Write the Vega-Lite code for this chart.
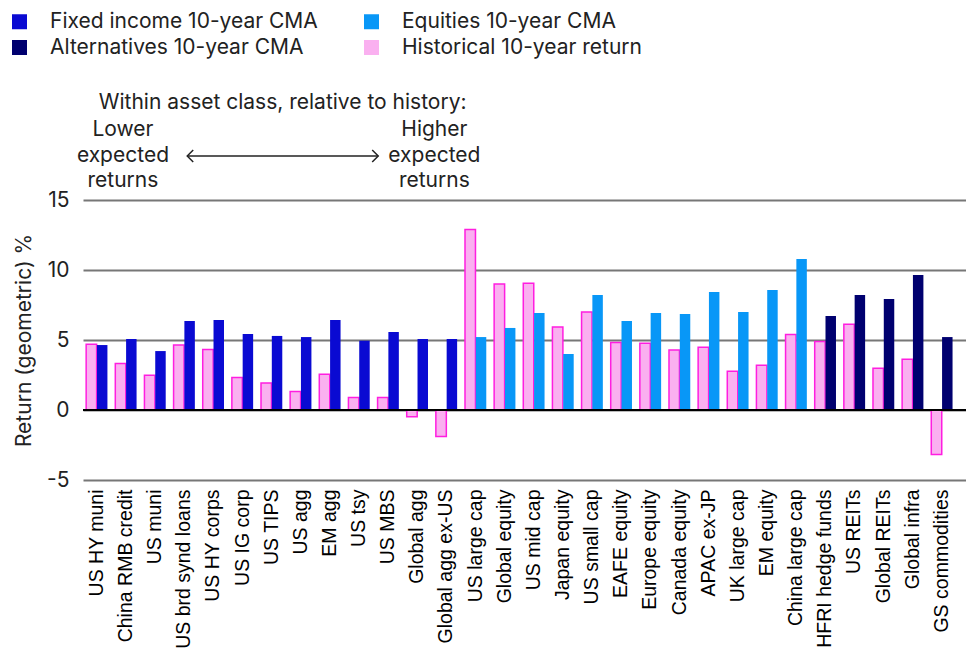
{
  "$schema": "https://vega.github.io/schema/vega-lite/v6.json",
  "width": 883,
  "height": 280,
  "autosize": "none",
  "padding": {"left": 83, "top": 200, "right": 0, "bottom": 191},
  "background": "white",
  "config": {"view": {"stroke": null}, "font": "Inter"},
  "layer": [
    {
      "data": {"values": [
        {"asset": "US HY muni", "kind": "Historical", "series": "Historical 10-year return", "value": 4.69},
        {"asset": "US HY muni", "kind": "CMA", "series": "Fixed income 10-year CMA", "value": 4.64},
        {"asset": "China RMB credit", "kind": "Historical", "series": "Historical 10-year return", "value": 3.33},
        {"asset": "China RMB credit", "kind": "CMA", "series": "Fixed income 10-year CMA", "value": 5.07},
        {"asset": "US muni", "kind": "Historical", "series": "Historical 10-year return", "value": 2.48},
        {"asset": "US muni", "kind": "CMA", "series": "Fixed income 10-year CMA", "value": 4.21},
        {"asset": "US brd synd loans", "kind": "Historical", "series": "Historical 10-year return", "value": 4.64},
        {"asset": "US brd synd loans", "kind": "CMA", "series": "Fixed income 10-year CMA", "value": 6.36},
        {"asset": "US HY corps", "kind": "Historical", "series": "Historical 10-year return", "value": 4.33},
        {"asset": "US HY corps", "kind": "CMA", "series": "Fixed income 10-year CMA", "value": 6.43},
        {"asset": "US IG corp", "kind": "Historical", "series": "Historical 10-year return", "value": 2.33},
        {"asset": "US IG corp", "kind": "CMA", "series": "Fixed income 10-year CMA", "value": 5.43},
        {"asset": "US TIPS", "kind": "Historical", "series": "Historical 10-year return", "value": 1.93},
        {"asset": "US TIPS", "kind": "CMA", "series": "Fixed income 10-year CMA", "value": 5.29},
        {"asset": "US agg", "kind": "Historical", "series": "Historical 10-year return", "value": 1.33},
        {"asset": "US agg", "kind": "CMA", "series": "Fixed income 10-year CMA", "value": 5.21},
        {"asset": "EM agg", "kind": "Historical", "series": "Historical 10-year return", "value": 2.55},
        {"asset": "EM agg", "kind": "CMA", "series": "Fixed income 10-year CMA", "value": 6.43},
        {"asset": "US tsy", "kind": "Historical", "series": "Historical 10-year return", "value": 0.9},
        {"asset": "US tsy", "kind": "CMA", "series": "Fixed income 10-year CMA", "value": 4.95},
        {"asset": "US MBS", "kind": "Historical", "series": "Historical 10-year return", "value": 0.9},
        {"asset": "US MBS", "kind": "CMA", "series": "Fixed income 10-year CMA", "value": 5.57},
        {"asset": "Global agg", "kind": "Historical", "series": "Historical 10-year return", "value": -0.48},
        {"asset": "Global agg", "kind": "CMA", "series": "Fixed income 10-year CMA", "value": 5.07},
        {"asset": "Global agg ex-US", "kind": "Historical", "series": "Historical 10-year return", "value": -1.9},
        {"asset": "Global agg ex-US", "kind": "CMA", "series": "Fixed income 10-year CMA", "value": 5.07},
        {"asset": "US large cap", "kind": "Historical", "series": "Historical 10-year return", "value": 12.9},
        {"asset": "US large cap", "kind": "CMA", "series": "Equities 10-year CMA", "value": 5.21},
        {"asset": "Global equity", "kind": "Historical", "series": "Historical 10-year return", "value": 9.0},
        {"asset": "Global equity", "kind": "CMA", "series": "Equities 10-year CMA", "value": 5.86},
        {"asset": "US mid cap", "kind": "Historical", "series": "Historical 10-year return", "value": 9.05},
        {"asset": "US mid cap", "kind": "CMA", "series": "Equities 10-year CMA", "value": 6.93},
        {"asset": "Japan equity", "kind": "Historical", "series": "Historical 10-year return", "value": 5.93},
        {"asset": "Japan equity", "kind": "CMA", "series": "Equities 10-year CMA", "value": 4.0},
        {"asset": "US small cap", "kind": "Historical", "series": "Historical 10-year return", "value": 7.0},
        {"asset": "US small cap", "kind": "CMA", "series": "Equities 10-year CMA", "value": 8.21},
        {"asset": "EAFE equity", "kind": "Historical", "series": "Historical 10-year return", "value": 4.83},
        {"asset": "EAFE equity", "kind": "CMA", "series": "Equities 10-year CMA", "value": 6.36},
        {"asset": "Europe equity", "kind": "Historical", "series": "Historical 10-year return", "value": 4.76},
        {"asset": "Europe equity", "kind": "CMA", "series": "Equities 10-year CMA", "value": 6.93},
        {"asset": "Canada equity", "kind": "Historical", "series": "Historical 10-year return", "value": 4.29},
        {"asset": "Canada equity", "kind": "CMA", "series": "Equities 10-year CMA", "value": 6.86},
        {"asset": "APAC ex-JP", "kind": "Historical", "series": "Historical 10-year return", "value": 4.48},
        {"asset": "APAC ex-JP", "kind": "CMA", "series": "Equities 10-year CMA", "value": 8.43},
        {"asset": "UK large cap", "kind": "Historical", "series": "Historical 10-year return", "value": 2.76},
        {"asset": "UK large cap", "kind": "CMA", "series": "Equities 10-year CMA", "value": 7.0},
        {"asset": "EM equity", "kind": "Historical", "series": "Historical 10-year return", "value": 3.19},
        {"asset": "EM equity", "kind": "CMA", "series": "Equities 10-year CMA", "value": 8.57},
        {"asset": "China large cap", "kind": "Historical", "series": "Historical 10-year return", "value": 5.4},
        {"asset": "China large cap", "kind": "CMA", "series": "Equities 10-year CMA", "value": 10.79},
        {"asset": "HFRI hedge funds", "kind": "Historical", "series": "Historical 10-year return", "value": 4.9},
        {"asset": "HFRI hedge funds", "kind": "CMA", "series": "Alternatives 10-year CMA", "value": 6.71},
        {"asset": "US REITs", "kind": "Historical", "series": "Historical 10-year return", "value": 6.12},
        {"asset": "US REITs", "kind": "CMA", "series": "Alternatives 10-year CMA", "value": 8.21},
        {"asset": "Global REITs", "kind": "Historical", "series": "Historical 10-year return", "value": 2.98},
        {"asset": "Global REITs", "kind": "CMA", "series": "Alternatives 10-year CMA", "value": 7.93},
        {"asset": "Global infra", "kind": "Historical", "series": "Historical 10-year return", "value": 3.62},
        {"asset": "Global infra", "kind": "CMA", "series": "Alternatives 10-year CMA", "value": 9.64},
        {"asset": "GS commodities", "kind": "Historical", "series": "Historical 10-year return", "value": -3.17},
        {"asset": "GS commodities", "kind": "CMA", "series": "Alternatives 10-year CMA", "value": 5.21}
      ]},
      "mark": {"type": "bar"},
      "encoding": {
        "x": {
          "field": "asset", "type": "nominal", "sort": null,
          "scale": {"paddingInner": 0.27, "paddingOuter": 0.285, "align": 0.19},
          "axis": {
            "title": null, "labelAngle": -90, "labelFontSize": 19.5, "labelFont": "Liberation Sans",
            "labelColor": "#000", "ticks": false, "domain": false, "labelPadding": 9, "labelLimit": 400
          }
        },
        "xOffset": {"field": "kind", "type": "nominal", "sort": ["Historical", "CMA"], "scale": {"paddingInner": 0.03}},
        "y": {
          "field": "value", "type": "quantitative",
          "scale": {"domain": [-5, 15], "nice": false},
          "axis": {
            "values": [-5, 0, 5, 10, 15], "labelExpr": "'' + datum.value",
            "grid": true, "gridColor": "#777", "gridWidth": 2, "domain": false, "ticks": false,
            "labelFontSize": 21, "labelColor": "#222", "labelPadding": 14,
            "title": "Return (geometric) %", "titleFontSize": 21, "titleFontWeight": "normal",
            "titleColor": "#222", "titlePadding": 12
          }
        },
        "color": {
          "field": "series", "type": "nominal",
          "scale": {
            "domain": ["Fixed income 10-year CMA", "Alternatives 10-year CMA", "Equities 10-year CMA", "Historical 10-year return"],
            "range": ["#0a0ad2", "#00006f", "#0897f7", "#fab0f0"]
          },
          "legend": {
            "orient": "none", "legendX": -74, "legendY": -189, "columns": 2, "columnPadding": 43,
            "rowPadding": 4, "symbolType": "square", "symbolSize": 225, "symbolStrokeWidth": 0,
            "labelFontSize": 21, "labelFont": "Inter", "labelColor": "#222", "labelOffset": 20,
            "title": null, "labelLimit": 400
          }
        },
        "stroke": {"condition": {"test": "datum.kind === 'Historical'", "value": "#ff1ee0"}, "value": null},
        "strokeWidth": {"value": 1.5}
      }
    },
    {
      "data": {"values": [{}]},
      "mark": {"type": "rule", "color": "#000", "strokeWidth": 2},
      "encoding": {"y": {"datum": 0}}
    },
    {
      "data": {"values": [{}]},
      "mark": {"type": "text", "fontSize": 21, "font": "Inter", "color": "#222", "dx": 11, "baseline": "middle", "align": "center"},
      "encoding": {
        "x": {"datum": "US TIPS"},
        "y": {"datum": 21.93},
        "text": {"value": "Within asset class, relative to history:"}
      }
    },
    {
      "data": {"values": [
        {"line": "Lower", "level": 20.0},
        {"line": "expected", "level": 18.14},
        {"line": "returns", "level": 16.36}
      ]},
      "mark": {"type": "text", "fontSize": 21, "font": "Inter", "color": "#222", "dx": -3, "baseline": "middle", "align": "center"},
      "encoding": {
        "x": {"datum": "China RMB credit"},
        "y": {"field": "level", "type": "quantitative"},
        "text": {"field": "line"}
      }
    },
    {
      "data": {"values": [
        {"line": "Higher", "level": 20.0},
        {"line": "expected", "level": 18.14},
        {"line": "returns", "level": 16.36}
      ]},
      "mark": {"type": "text", "fontSize": 21, "font": "Inter", "color": "#222", "dx": 17, "baseline": "middle", "align": "center"},
      "encoding": {
        "x": {"datum": "Global agg"},
        "y": {"field": "level", "type": "quantitative"},
        "text": {"field": "line"}
      }
    },
    {
      "data": {"values": [{}]},
      "mark": {"type": "rule", "color": "#222", "strokeWidth": 1.5, "xOffset": 3, "x2Offset": -10},
      "encoding": {
        "x": {"datum": "US brd synd loans"},
        "x2": {"datum": "US MBS"},
        "y": {"datum": 18.14}
      }
    },
    {
      "data": {"values": [{}]},
      "mark": {"type": "point", "shape": "M1,-1L0,0L1,1", "size": 144, "filled": false, "color": "#222", "strokeWidth": 1.5, "xOffset": 3, "opacity": 1},
      "encoding": {
        "x": {"datum": "US brd synd loans"},
        "y": {"datum": 18.14}
      }
    },
    {
      "data": {"values": [{}]},
      "mark": {"type": "point", "shape": "M-1,-1L0,0L-1,1", "size": 144, "filled": false, "color": "#222", "strokeWidth": 1.5, "xOffset": -10, "opacity": 1},
      "encoding": {
        "x": {"datum": "US MBS"},
        "y": {"datum": 18.14}
      }
    }
  ]
}
